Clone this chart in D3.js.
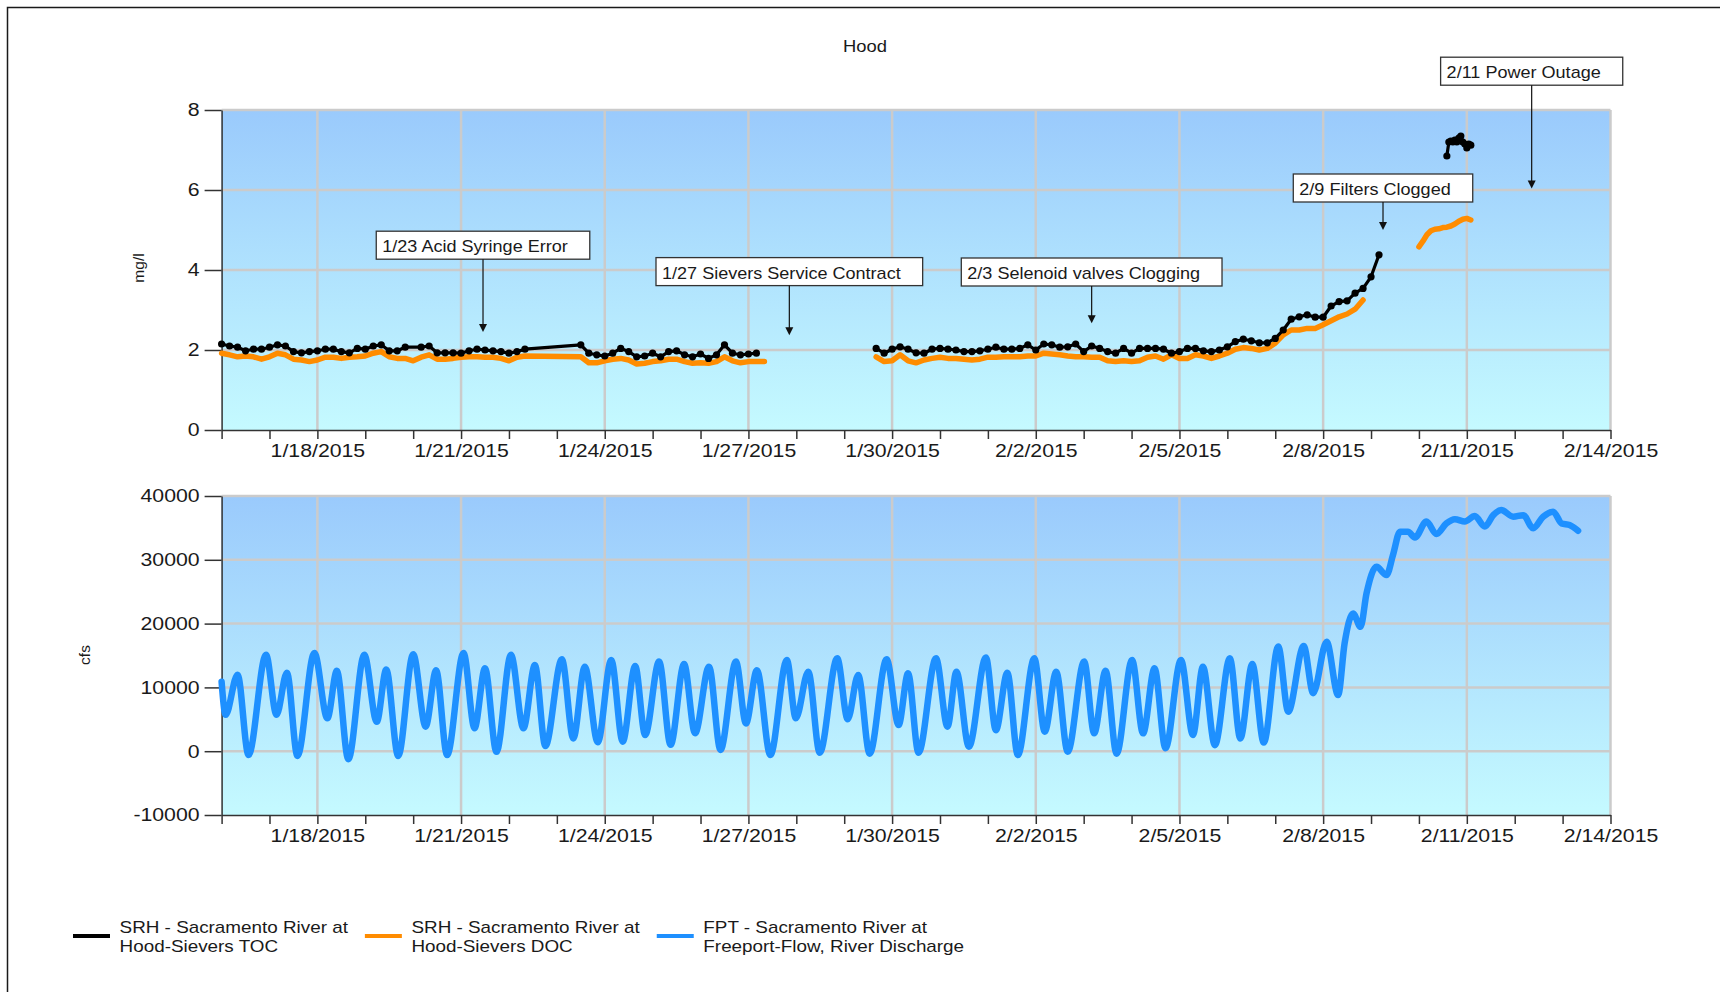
<!DOCTYPE html>
<html>
<head>
<meta charset="utf-8">
<script src="https://cdn.jsdelivr.net/npm/d3@7"></script>
<style>
  body { margin: 0; background: #fff; }
  svg text { font-family: "Liberation Sans", Arial, sans-serif; fill: #1a1a1a; }
</style>
</head>
<body>
<script>
//Tick labels on the date axes
var dateLabels = ["1/18/2015", "1/21/2015", "1/24/2015", "1/27/2015", "1/30/2015",
                  "2/2/2015", "2/5/2015", "2/8/2015", "2/11/2015", "2/14/2015"];
var mgTicks = [0, 2, 4, 6, 8];
var cfsTicks = [-10000, 0, 10000, 20000, 30000, 40000];

//SRH TOC (mg/l), 4 hour readings, null = no reading
var tocSeg1Start = "2015-01-16 00:00";
var tocSeg1 = [2.15, 2.10, 2.07, 1.98, 2.02, 2.02, 2.07, 2.13, 2.10, 1.96, 1.93, 1.96,
               1.98, 2.02, 2.02, 1.96, 1.93, 2.04, 2.02, 2.10, 2.13, 1.98, 1.98, 2.07,
               null, 2.07, 2.10, 1.93, 1.93, 1.93, 1.92, 1.98, 2.02, 2.00, 1.98, 1.96,
               1.92, 1.96, 2.02, null, null, null, null, null, null, 2.13, 1.92, 1.88,
               1.85, 1.92, 2.04, 1.96, 1.83, 1.85, 1.92, 1.83, 1.96, 1.98, 1.88, 1.83,
               1.90, 1.79, 1.88, 2.13, 1.92, 1.88, 1.90, 1.92];
var tocSeg2Start = "2015-01-29 16:00";
var tocSeg2 = [2.04, 1.92, 2.02, 2.08, 2.02, 1.93, 1.92, 2.02, 2.04, 2.02, 2.00, 1.96,
               1.96, 1.98, 2.02, 2.07, 2.02, 2.02, 2.04, 2.13, 2.00, 2.15, 2.13, 2.07,
               2.08, 2.15, 1.96, 2.10, 2.04, 1.96, 1.92, 2.04, 1.92, 2.04, 2.04, 2.04,
               2.02, 1.92, 1.96, 2.04, 2.04, 1.98, 1.96, 2.00, 2.08, 2.21, 2.27, 2.23,
               2.18, 2.18, 2.29, 2.50, 2.77, 2.83, 2.88, 2.82, 2.82, 3.10, 3.21, 3.23,
               3.42, 3.54, 3.83, 4.38];
//hourly after the filters were cleaned
var tocSeg3Start = "2015-02-10 14:00";
var tocSeg3 = [6.85, 7.20, 7.22, 7.20, 7.25, 7.20, 7.30, 7.35, 7.20, 7.15, 7.05, 7.15, 7.12];

//SRH DOC (mg/l)
var docSeg1Start = "2015-01-16 00:00";
var docSeg1 = [1.92, 1.88, 1.83, 1.85, 1.83, 1.77, 1.83, 1.92, 1.88, 1.77, 1.75, 1.71,
               1.75, 1.82, 1.82, 1.79, 1.82, 1.83, 1.85, 1.92, 1.96, 1.83, 1.79, 1.79,
               1.73, 1.82, 1.88, 1.77, 1.77, 1.79, 1.82, 1.83, 1.83, 1.82, 1.82, 1.79,
               1.73, 1.82, 1.85, null, null, null, null, null, null, 1.83, 1.68, 1.68,
               1.73, 1.77, 1.79, 1.75, 1.65, 1.67, 1.71, 1.73, 1.77, 1.77, 1.71, 1.67,
               1.68, 1.67, 1.71, 1.83, 1.73, 1.68, 1.71, 1.71, 1.71];
var docSeg2Start = "2015-01-29 16:00";
var docSeg2 = [1.83, 1.71, 1.73, 1.88, 1.73, 1.68, 1.75, 1.79, 1.82, 1.79, 1.79, 1.77,
               1.75, 1.77, 1.82, 1.82, 1.83, 1.83, 1.83, 1.85, 1.85, 1.92, 1.90, 1.88,
               1.85, 1.83, 1.83, 1.82, 1.82, 1.73, 1.71, 1.73, 1.71, 1.73, 1.82, 1.85,
               1.77, 1.88, 1.79, 1.79, 1.88, 1.85, 1.79, 1.85, 1.92, 2.02, 2.06, 2.04,
               2.00, 2.04, 2.17, 2.38, 2.50, 2.50, 2.54, 2.54, 2.63, 2.73, 2.83, 2.90,
               3.02, 3.25];
//2 hour readings
var docSeg3Start = "2015-02-10 00:00";
var docSeg3 = [4.58, 4.72, 4.88, 4.98, 5.02, 5.03, 5.06, 5.07, 5.10, 5.15, 5.22, 5.27, 5.29, 5.25];

//FPT river discharge (cfs): tidal highs and lows
var flow = [
  ["2015-01-16 00:00", 10900], ["2015-01-16 02:00", 5700], ["2015-01-16 08:00", 12000],
  ["2015-01-16 13:30", -600], ["2015-01-16 22:15", 15100], ["2015-01-17 03:30", 5700],
  ["2015-01-17 08:45", 12300], ["2015-01-17 14:00", -750], ["2015-01-17 22:30", 15400],
  ["2015-01-18 05:00", 5150], ["2015-01-18 09:45", 12600], ["2015-01-18 15:30", -1250],
  ["2015-01-18 23:30", 15100], ["2015-01-19 05:45", 4600], ["2015-01-19 10:30", 12800],
  ["2015-01-19 16:30", -750], ["2015-01-20 00:00", 15200], ["2015-01-20 06:15", 3850],
  ["2015-01-20 11:30", 12700], ["2015-01-20 17:00", -600], ["2015-01-21 01:15", 15400],
  ["2015-01-21 06:45", 3600], ["2015-01-21 12:00", 13000], ["2015-01-21 17:45", -100],
  ["2015-01-22 01:00", 15100], ["2015-01-22 07:15", 3600], ["2015-01-22 13:00", 13500],
  ["2015-01-22 18:15", 800], ["2015-01-23 02:30", 14400], ["2015-01-23 08:15", 2000],
  ["2015-01-23 14:00", 13250], ["2015-01-23 20:30", 1400], ["2015-01-24 03:15", 14300],
  ["2015-01-24 09:00", 1500], ["2015-01-24 15:15", 13350], ["2015-01-24 20:15", 2550],
  ["2015-01-25 03:15", 14050], ["2015-01-25 09:00", 1000], ["2015-01-25 15:45", 13650],
  ["2015-01-25 21:15", 2800], ["2015-01-26 04:15", 13250], ["2015-01-26 10:00", 200],
  ["2015-01-26 17:45", 14050], ["2015-01-26 22:45", 4350], ["2015-01-27 04:15", 12700],
  ["2015-01-27 11:00", -600], ["2015-01-27 19:15", 14300], ["2015-01-27 23:45", 5150],
  ["2015-01-28 06:00", 12450], ["2015-01-28 11:45", -250], ["2015-01-28 20:30", 14550],
  ["2015-01-29 01:45", 5000], ["2015-01-29 07:00", 11950], ["2015-01-29 12:45", -400],
  ["2015-01-29 21:15", 14400], ["2015-01-30 03:15", 4100], ["2015-01-30 08:00", 12200],
  ["2015-01-30 13:15", -250], ["2015-01-30 22:00", 14550], ["2015-01-31 03:45", 3850],
  ["2015-01-31 08:15", 12450], ["2015-01-31 14:30", 700], ["2015-01-31 23:00", 14700],
  ["2015-02-01 04:00", 3300], ["2015-02-01 09:45", 12300], ["2015-02-01 15:00", -600],
  ["2015-02-01 23:15", 14550], ["2015-02-02 04:30", 3050], ["2015-02-02 10:15", 12450],
  ["2015-02-02 16:00", -100], ["2015-02-03 00:15", 14050], ["2015-02-03 05:15", 2800],
  ["2015-02-03 11:00", 12600], ["2015-02-03 16:30", -400], ["2015-02-04 00:15", 14300],
  ["2015-02-04 05:45", 2800], ["2015-02-04 11:30", 13000], ["2015-02-04 17:00", 450],
  ["2015-02-05 00:45", 14300], ["2015-02-05 06:45", 2550], ["2015-02-05 11:45", 13250],
  ["2015-02-05 17:45", 950], ["2015-02-06 01:15", 14550], ["2015-02-06 06:30", 2000],
  ["2015-02-06 12:30", 13650], ["2015-02-06 18:15", 1350], ["2015-02-07 01:30", 16400],
  ["2015-02-07 06:30", 6200], ["2015-02-07 14:15", 16500], ["2015-02-07 19:00", 9100],
  ["2015-02-08 01:45", 17150], ["2015-02-08 07:30", 8800], ["2015-02-08 10:45", 16900],
  ["2015-02-08 15:00", 21600], ["2015-02-08 18:45", 19500], ["2015-02-08 21:45", 24750],
  ["2015-02-09 02:45", 28900], ["2015-02-09 07:45", 27600], ["2015-02-09 11:00", 30750],
  ["2015-02-09 14:30", 34400], ["2015-02-09 18:30", 34400], ["2015-02-09 22:00", 33500],
  ["2015-02-10 03:45", 36000], ["2015-02-10 08:45", 34050], ["2015-02-10 13:45", 35700],
  ["2015-02-10 18:00", 36350], ["2015-02-10 23:00", 36000], ["2015-02-11 04:00", 36850],
  ["2015-02-11 09:00", 35200], ["2015-02-11 13:15", 37000], ["2015-02-11 17:15", 37800],
  ["2015-02-11 23:15", 36750], ["2015-02-12 04:15", 37000], ["2015-02-12 09:15", 34950],
  ["2015-02-12 14:15", 36750], ["2015-02-12 19:15", 37550], ["2015-02-12 23:30", 35700],
  ["2015-02-13 03:30", 35450], ["2015-02-13 07:45", 34550]
];

//Callouts: arrow tip (date, mg/l) and the level of the label box (mg/l)
var notes = [
  {label: "1/23 Acid Syringe Error", date: "2015-01-21 11:00", tip: 2.45, box: 4.62},
  {label: "1/27 Sievers Service Contract", date: "2015-01-27 20:30", tip: 2.37, box: 3.96},
  {label: "2/3 Selenoid valves Clogging", date: "2015-02-03 04:00", tip: 2.67, box: 3.95},
  {label: "2/9 Filters Clogged", date: "2015-02-09 06:00", tip: 5.0, box: 6.05},
  {label: "2/11 Power Outage", date: "2015-02-12 08:30", tip: 6.04, box: 8.97}
];

var legendItems = [
  {lines: ["SRH - Sacramento River at", "Hood-Sievers TOC"], color: "#000000"},
  {lines: ["SRH - Sacramento River at", "Hood-Sievers DOC"], color: "#FF8C00"},
  {lines: ["FPT - Sacramento River at", "Freeport-Flow, River Discharge"], color: "#1E90FF"}
];

var w = 1720, h = 992;
var stretch = 1.15;   //text in the source is drawn a bit wide
var left = 221.6, right = 1610.5;

var parse = d3.timeParse("%Y-%m-%d %H:%M");
var parseLabel = d3.timeParse("%m/%d/%Y");
var fmtLabel = d3.timeFormat("%-m/%-d/%Y");

function series(start, stepHours, values) {
  var t0 = parse(start);
  return values.map(function(v, i) {
    return {date: d3.timeHour.offset(t0, i * stepHours), value: v};
  }).filter(function(d) { return d.value !== null; });
}

var xStart = parse("2015-01-16 00:00"), xEnd = parse("2015-02-14 00:00");
var xScale = d3.scaleTime().domain([xStart, xEnd]).range([left, right]);
var yTop = d3.scaleLinear().domain([0, 8]).range([430, 110]);
var yBot = d3.scaleLinear().domain([-10000, 40000]).range([815, 496]);

var svg = d3.select("body").append("svg").attr("width", w).attr("height", h);

var grad = svg.append("defs").append("linearGradient")
  .attr("id", "bg").attr("x1", 0).attr("y1", 0).attr("x2", 0).attr("y2", 1);
grad.append("stop").attr("offset", "0%").attr("stop-color", "#9ACAFC");
grad.append("stop").attr("offset", "100%").attr("stop-color", "#C5FAFF");

//outer frame
svg.append("rect").attr("x", 7.5).attr("y", 7.5).attr("width", w).attr("height", h)
  .attr("fill", "none").attr("stroke", "#1a1a1a").attr("stroke-width", 1.5);

function stretchedText(g, x, y, str, size, anchor) {
  return g.append("text")
    .attr("transform", "translate(" + x + "," + y + ") scale(" + stretch + ",1)")
    .attr("font-size", size)
    .attr("text-anchor", anchor || "start")
    .text(str);
}

stretchedText(svg, 865, 51.5, "Hood", 16, "middle");

function panel(y, ticks, title, titleX, titleY) {
  var g = svg.append("g");
  var y0 = y.range()[1], y1 = y.range()[0];

  g.append("rect").attr("x", left).attr("y", y0)
    .attr("width", right - left).attr("height", y1 - y0)
    .attr("fill", "url(#bg)");

  //grid
  g.selectAll(".hgrid").data(ticks.slice(1)).enter().append("line")
    .attr("x1", left).attr("x2", right)
    .attr("y1", function(d) { return y(d); }).attr("y2", function(d) { return y(d); })
    .attr("stroke", "#CBCBCB").attr("stroke-width", 2.5);
  g.selectAll(".vgrid").data(dateLabels).enter().append("line")
    .attr("x1", function(d) { return xScale(parseLabel(d)); })
    .attr("x2", function(d) { return xScale(parseLabel(d)); })
    .attr("y1", y0).attr("y2", y1)
    .attr("stroke", "#CBCBCB").attr("stroke-width", 2.5);

  //axes
  var xAxis = d3.axisBottom(xScale)
    .tickValues(d3.timeDay.range(xStart, d3.timeDay.offset(xEnd, 1)))
    .tickSize(9).tickPadding(5).tickSizeOuter(0)
    .tickFormat(function(d) { return dateLabels.indexOf(fmtLabel(d)) >= 0 ? fmtLabel(d) : ""; });
  var gx = g.append("g").attr("transform", "translate(0," + y1 + ")").call(xAxis);

  var yAxis = d3.axisLeft(y).tickValues(ticks).tickSize(17).tickPadding(5).tickSizeOuter(0)
    .tickFormat(function(d) { return String(d); });
  var gy = g.append("g").attr("transform", "translate(" + left + ",0)").call(yAxis);

  [gx, gy].forEach(function(a) {
    a.attr("font-family", null).attr("font-size", 18.5);
    a.selectAll("path, line").attr("stroke", "#333").attr("stroke-width", 1.5);
    a.selectAll("text").attr("fill", "#1a1a1a");
  });
  gx.selectAll("text").attr("transform", "scale(" + stretch + ",1)");
  gy.selectAll("text").attr("transform", "scale(" + stretch + ",1)").attr("x", -22 / stretch);

  g.append("text")
    .attr("transform", "translate(" + titleX + "," + titleY + ") rotate(-90)")
    .attr("text-anchor", "middle").attr("dy", "0.35em")
    .attr("font-size", 15.5)
    .text(title);
  return g;
}

var gTop = panel(yTop, mgTicks, "mg/l", 139, 268);
var gBot = panel(yBot, cfsTicks, "cfs", 85, 655);

//DOC first, TOC on top
var lineTop = d3.line()
  .x(function(d) { return xScale(d.date); })
  .y(function(d) { return yTop(d.value); });

[series(docSeg1Start, 4, docSeg1), series(docSeg2Start, 4, docSeg2), series(docSeg3Start, 2, docSeg3)]
  .forEach(function(seg) {
    gTop.append("path").datum(seg).attr("d", lineTop)
      .attr("fill", "none").attr("stroke", "#FF8C00").attr("stroke-width", 5.5)
      .attr("stroke-linejoin", "round").attr("stroke-linecap", "round");
  });

[series(tocSeg1Start, 4, tocSeg1), series(tocSeg2Start, 4, tocSeg2), series(tocSeg3Start, 1, tocSeg3)]
  .forEach(function(seg) {
    gTop.append("path").datum(seg).attr("d", lineTop)
      .attr("fill", "none").attr("stroke", "#000").attr("stroke-width", 3.2)
      .attr("stroke-linejoin", "round").attr("stroke-linecap", "round");
    gTop.append("g").selectAll("circle").data(seg).enter().append("circle")
      .attr("cx", function(d) { return xScale(d.date); })
      .attr("cy", function(d) { return yTop(d.value); })
      .attr("r", 3.6).attr("fill", "#000");
  });

//river discharge
var flowData = flow.map(function(d) { return {date: parse(d[0]), value: d[1]}; });
gBot.append("path").datum(flowData)
  .attr("d", d3.line().curve(d3.curveMonotoneX)
    .x(function(d) { return xScale(d.date); })
    .y(function(d) { return yBot(d.value); }))
  .attr("fill", "none").attr("stroke", "#1E90FF").attr("stroke-width", 6.5)
  .attr("stroke-linejoin", "round").attr("stroke-linecap", "round");

//callouts
var gNotes = svg.append("g");
notes.forEach(function(n) {
  var cx = xScale(parse(n.date)), ty = yTop(n.tip), cy = yTop(n.box);
  var box = gNotes.append("rect");
  var t = stretchedText(gNotes, 0, 0, n.label, 15.7, "start");
  var tw = t.node().getComputedTextLength() * stretch;
  var bw = tw + 28, bx = cx - bw / 2;
  t.attr("transform", "translate(" + (bx + 6) + "," + (cy + 7) + ") scale(" + stretch + ",1)");
  box.attr("x", bx).attr("y", cy - 14).attr("width", bw).attr("height", 28)
    .attr("fill", "#fff").attr("stroke", "#333").attr("stroke-width", 1.3);
  gNotes.append("line")
    .attr("x1", cx).attr("x2", cx).attr("y1", cy + 14).attr("y2", ty - 7)
    .attr("stroke", "#111").attr("stroke-width", 1.2);
  gNotes.append("path")
    .attr("d", "M" + (cx - 4) + "," + (ty - 8) + "L" + (cx + 4) + "," + (ty - 8) + "L" + cx + "," + ty + "Z")
    .attr("fill", "#111");
});

//legend
var gLeg = svg.append("g");
var lx = 73;
legendItems.forEach(function(item) {
  gLeg.append("line").attr("x1", lx).attr("x2", lx + 37).attr("y1", 936).attr("y2", 936)
    .attr("stroke", item.color).attr("stroke-width", 4);
  var maxW = 0;
  item.lines.forEach(function(s, i) {
    var t = stretchedText(gLeg, lx + 46.6, 933 + i * 18.5, s, 16.4, "start");
    maxW = Math.max(maxW, t.node().getComputedTextLength() * stretch);
  });
  lx = lx + 46.6 + maxW + 17;
});
</script>
</body>
</html>
